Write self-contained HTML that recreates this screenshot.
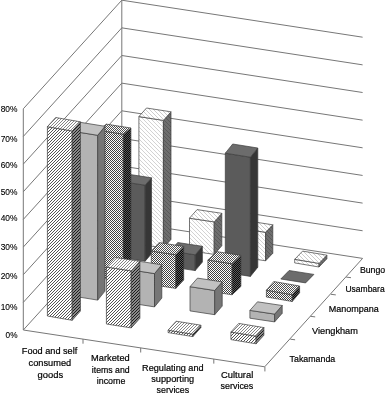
<!DOCTYPE html>
<html><head><meta charset="utf-8"><title>Chart</title><style>
html,body{margin:0;padding:0;background:#fff;}
svg{display:block;}
.s1f{fill:url(#h1f)} .s1r{fill:url(#h1r)} .s1t{fill:url(#h1t)}
.s2f{fill:#b3b3b3} .s2r{fill:#767676} .s2t{fill:#c1c1c1}
.s3f{fill:url(#c3f)} .s3r{fill:url(#c3r)} .s3t{fill:url(#c3t)}
.s4f{fill:#5b5b5b} .s4r{fill:#363636} .s4t{fill:#6c6c6c}
.s5f{fill:url(#h5f)} .s5r{fill:url(#h5r)} .s5t{fill:url(#h5t)}
</style></head><body>
<svg width="387" height="395" viewBox="0 0 387 395"><defs><pattern id="h1f" width="30" height="30" patternUnits="userSpaceOnUse"><rect width="30" height="30" fill="#fff"/><path d="M-30.000 30 L0.000 0 M-27.000 30 L3.000 0 M-24.000 30 L6.000 0 M-21.000 30 L9.000 0 M-18.000 30 L12.000 0 M-15.000 30 L15.000 0 M-12.000 30 L18.000 0 M-9.000 30 L21.000 0 M-6.000 30 L24.000 0 M-3.000 30 L27.000 0 M0.000 30 L30.000 0 M3.000 30 L33.000 0 M6.000 30 L36.000 0 M9.000 30 L39.000 0 M12.000 30 L42.000 0 M15.000 30 L45.000 0 M18.000 30 L48.000 0 M21.000 30 L51.000 0 M24.000 30 L54.000 0 M27.000 30 L57.000 0 M30.000 30 L60.000 0" stroke="#222" stroke-width="0.78" fill="none"/></pattern><pattern id="h1r" width="30" height="30" patternUnits="userSpaceOnUse"><rect width="30" height="30" fill="#8a8a8a"/><path d="M-30.000 30 L0.000 0 M-27.000 30 L3.000 0 M-24.000 30 L6.000 0 M-21.000 30 L9.000 0 M-18.000 30 L12.000 0 M-15.000 30 L15.000 0 M-12.000 30 L18.000 0 M-9.000 30 L21.000 0 M-6.000 30 L24.000 0 M-3.000 30 L27.000 0 M0.000 30 L30.000 0 M3.000 30 L33.000 0 M6.000 30 L36.000 0 M9.000 30 L39.000 0 M12.000 30 L42.000 0 M15.000 30 L45.000 0 M18.000 30 L48.000 0 M21.000 30 L51.000 0 M24.000 30 L54.000 0 M27.000 30 L57.000 0 M30.000 30 L60.000 0" stroke="#1c1c1c" stroke-width="1.00" fill="none"/></pattern><pattern id="h1t" width="30" height="30" patternUnits="userSpaceOnUse"><rect width="30" height="30" fill="#fff"/><path d="M-30.000 30 L0.000 0 M-27.000 30 L3.000 0 M-24.000 30 L6.000 0 M-21.000 30 L9.000 0 M-18.000 30 L12.000 0 M-15.000 30 L15.000 0 M-12.000 30 L18.000 0 M-9.000 30 L21.000 0 M-6.000 30 L24.000 0 M-3.000 30 L27.000 0 M0.000 30 L30.000 0 M3.000 30 L33.000 0 M6.000 30 L36.000 0 M9.000 30 L39.000 0 M12.000 30 L42.000 0 M15.000 30 L45.000 0 M18.000 30 L48.000 0 M21.000 30 L51.000 0 M24.000 30 L54.000 0 M27.000 30 L57.000 0 M30.000 30 L60.000 0" stroke="#505050" stroke-width="0.70" fill="none"/></pattern><pattern id="c3f" width="2" height="2" patternUnits="userSpaceOnUse"><rect width="2" height="2" fill="#fff"/><rect width="1" height="1" fill="#404040"/><rect x="1" y="1" width="1" height="1" fill="#404040"/></pattern><pattern id="c3r" width="2" height="2" patternUnits="userSpaceOnUse"><rect width="2" height="2" fill="#0a0a0a"/><rect width="1" height="1" fill="#5a5a5a"/><rect x="1" y="1" width="1" height="1" fill="#5a5a5a"/></pattern><pattern id="c3t" width="2" height="2" patternUnits="userSpaceOnUse"><rect width="2" height="2" fill="#fff"/><rect width="1" height="1" fill="#505050"/><rect x="1" y="1" width="1" height="1" fill="#505050"/></pattern><pattern id="h5f" width="40" height="40" patternUnits="userSpaceOnUse"><rect width="40" height="40" fill="#fff"/><path d="M-40.000 0 L0.000 40 M-36.000 0 L4.000 40 M-32.000 0 L8.000 40 M-28.000 0 L12.000 40 M-24.000 0 L16.000 40 M-20.000 0 L20.000 40 M-16.000 0 L24.000 40 M-12.000 0 L28.000 40 M-8.000 0 L32.000 40 M-4.000 0 L36.000 40 M0.000 0 L40.000 40 M4.000 0 L44.000 40 M8.000 0 L48.000 40 M12.000 0 L52.000 40 M16.000 0 L56.000 40 M20.000 0 L60.000 40 M24.000 0 L64.000 40 M28.000 0 L68.000 40 M32.000 0 L72.000 40 M36.000 0 L76.000 40 M40.000 0 L80.000 40" stroke="#cecece" stroke-width="0.90" fill="none"/></pattern><pattern id="h5r" width="40" height="40" patternUnits="userSpaceOnUse"><rect width="40" height="40" fill="#6e6e6e"/><path d="M-40.000 0 L0.000 40 M-36.000 0 L4.000 40 M-32.000 0 L8.000 40 M-28.000 0 L12.000 40 M-24.000 0 L16.000 40 M-20.000 0 L20.000 40 M-16.000 0 L24.000 40 M-12.000 0 L28.000 40 M-8.000 0 L32.000 40 M-4.000 0 L36.000 40 M0.000 0 L40.000 40 M4.000 0 L44.000 40 M8.000 0 L48.000 40 M12.000 0 L52.000 40 M16.000 0 L56.000 40 M20.000 0 L60.000 40 M24.000 0 L64.000 40 M28.000 0 L68.000 40 M32.000 0 L72.000 40 M36.000 0 L76.000 40 M40.000 0 L80.000 40" stroke="#565656" stroke-width="0.95" fill="none"/></pattern><pattern id="h5t" width="40" height="40" patternUnits="userSpaceOnUse"><rect width="40" height="40" fill="#fff"/><path d="M-40.000 0 L0.000 40 M-36.000 0 L4.000 40 M-32.000 0 L8.000 40 M-28.000 0 L12.000 40 M-24.000 0 L16.000 40 M-20.000 0 L20.000 40 M-16.000 0 L24.000 40 M-12.000 0 L28.000 40 M-8.000 0 L32.000 40 M-4.000 0 L36.000 40 M0.000 0 L40.000 40 M4.000 0 L44.000 40 M8.000 0 L48.000 40 M12.000 0 L52.000 40 M16.000 0 L56.000 40 M20.000 0 L60.000 40 M24.000 0 L64.000 40 M28.000 0 L68.000 40 M32.000 0 L72.000 40 M36.000 0 L76.000 40 M40.000 0 L80.000 40" stroke="#c6c6c6" stroke-width="0.90" fill="none"/></pattern></defs>
<g stroke="#777" stroke-width="1" fill="none"><line x1="23.30" y1="330.00" x2="121.80" y2="221.40"/><line x1="121.80" y1="221.40" x2="362.60" y2="258.40"/><line x1="23.30" y1="302.35" x2="121.80" y2="193.75"/><line x1="121.80" y1="193.75" x2="362.60" y2="230.75"/><line x1="23.30" y1="274.70" x2="121.80" y2="166.10"/><line x1="121.80" y1="166.10" x2="362.60" y2="203.10"/><line x1="23.30" y1="247.05" x2="121.80" y2="138.45"/><line x1="121.80" y1="138.45" x2="362.60" y2="175.45"/><line x1="23.30" y1="219.40" x2="121.80" y2="110.80"/><line x1="121.80" y1="110.80" x2="362.60" y2="147.80"/><line x1="23.30" y1="191.75" x2="121.80" y2="83.15"/><line x1="121.80" y1="83.15" x2="362.60" y2="120.15"/><line x1="23.30" y1="164.10" x2="121.80" y2="55.50"/><line x1="121.80" y1="55.50" x2="362.60" y2="92.50"/><line x1="23.30" y1="136.45" x2="121.80" y2="27.85"/><line x1="121.80" y1="27.85" x2="362.60" y2="64.85"/><line x1="23.30" y1="108.80" x2="121.80" y2="0.20"/><line x1="121.80" y1="0.20" x2="362.60" y2="37.20"/><line x1="23.30" y1="330.00" x2="23.30" y2="108.80"/><line x1="121.80" y1="221.40" x2="121.80" y2="0.20"/><line x1="23.30" y1="330.00" x2="264.70" y2="366.80"/><line x1="264.70" y1="366.80" x2="362.60" y2="258.40"/><line x1="83.00" y1="339.10" x2="83.00" y2="343.70"/><line x1="140.70" y1="347.90" x2="140.70" y2="352.50"/><line x1="213.80" y1="359.04" x2="213.80" y2="363.64"/><line x1="264.90" y1="366.83" x2="264.90" y2="371.43"/><line x1="290.30" y1="339.20" x2="295.10" y2="339.80"/><line x1="310.40" y1="316.30" x2="315.20" y2="316.90"/><line x1="331.00" y1="294.30" x2="335.80" y2="294.90"/><line x1="346.20" y1="277.10" x2="351.00" y2="277.70"/></g>
<g stroke="#3c3c3c" stroke-width="0.7" stroke-linejoin="round"><polygon class="s5f" points="138.90,244.20 163.40,248.00 163.40,120.40 138.90,116.60"/><polygon class="s5r" points="163.40,248.00 171.00,239.40 171.00,111.80 163.40,120.40"/><polygon class="s5t" points="138.90,116.60 163.40,120.40 171.00,111.80 146.50,108.00"/><polygon class="s5f" points="189.50,250.70 214.20,254.40 214.20,221.90 189.50,218.20"/><polygon class="s5r" points="214.20,254.40 221.80,245.80 221.80,213.30 214.20,221.90"/><polygon class="s5t" points="189.50,218.20 214.20,221.90 221.80,213.30 197.10,209.60"/><polygon class="s5f" points="241.00,257.00 265.60,260.80 265.60,232.30 241.00,228.50"/><polygon class="s5r" points="265.60,260.80 272.80,253.30 272.80,224.80 265.60,232.30"/><polygon class="s5t" points="241.00,228.50 265.60,232.30 272.80,224.80 248.20,221.00"/><polygon class="s5f" points="294.70,262.90 319.00,267.00 319.00,263.40 294.70,259.30"/><polygon class="s5r" points="319.00,267.00 326.90,258.80 326.90,255.20 319.00,263.40"/><polygon class="s5t" points="294.70,259.30 319.00,263.40 326.90,255.20 302.60,251.10"/><polygon class="s4f" points="120.40,257.40 145.10,261.20 145.10,185.20 120.40,181.40"/><polygon class="s4r" points="145.10,261.20 151.50,253.80 151.50,177.80 145.10,185.20"/><polygon class="s4t" points="120.40,181.40 145.10,185.20 151.50,177.80 126.80,174.00"/><polygon class="s4f" points="170.50,266.80 195.20,270.60 195.20,254.80 170.50,251.00"/><polygon class="s4r" points="195.20,270.60 202.40,262.10 202.40,246.30 195.20,254.80"/><polygon class="s4t" points="170.50,251.00 195.20,254.80 202.40,246.30 177.70,242.50"/><polygon class="s4f" points="225.30,272.40 250.40,276.40 250.40,157.20 225.30,153.20"/><polygon class="s4r" points="250.40,276.40 257.80,267.20 257.80,148.00 250.40,157.20"/><polygon class="s4t" points="225.30,153.20 250.40,157.20 257.80,148.00 232.70,144.00"/><polygon class="s4t" points="280.80,279.00 305.60,282.90 313.90,274.40 289.10,270.50"/><polygon class="s3f" points="98.60,277.60 123.30,281.50 123.30,134.20 98.60,130.30"/><polygon class="s3r" points="123.30,281.50 130.90,275.30 130.90,128.00 123.30,134.20"/><polygon class="s3t" points="98.60,130.30 123.30,134.20 130.90,128.00 106.20,124.10"/><polygon class="s3f" points="151.30,284.60 175.80,288.40 175.80,254.80 151.30,251.00"/><polygon class="s3r" points="175.80,288.40 183.70,280.00 183.70,246.40 175.80,254.80"/><polygon class="s3t" points="151.30,251.00 175.80,254.80 183.70,246.40 159.20,242.60"/><polygon class="s3f" points="207.90,291.00 232.10,294.80 232.10,263.80 207.90,260.00"/><polygon class="s3r" points="232.10,294.80 240.90,286.40 240.90,255.40 232.10,263.80"/><polygon class="s3t" points="207.90,260.00 232.10,263.80 240.90,255.40 216.70,251.60"/><polygon class="s3f" points="266.40,297.00 292.20,301.50 292.20,294.70 266.40,290.20"/><polygon class="s3r" points="292.20,301.50 299.60,292.80 299.60,286.00 292.20,294.70"/><polygon class="s3t" points="266.40,290.20 292.20,294.70 299.60,286.00 273.80,281.50"/><polygon class="s2f" points="72.90,296.10 97.70,300.10 97.70,135.30 72.90,131.30"/><polygon class="s2r" points="97.70,300.10 105.00,291.10 105.00,126.30 97.70,135.30"/><polygon class="s2t" points="72.90,131.30 97.70,135.30 105.00,126.30 80.20,122.30"/><polygon class="s2f" points="129.70,303.00 154.50,306.90 154.50,273.60 129.70,269.70"/><polygon class="s2r" points="154.50,306.90 161.80,298.10 161.80,264.80 154.50,273.60"/><polygon class="s2t" points="129.70,269.70 154.50,273.60 161.80,264.80 137.00,260.90"/><polygon class="s2f" points="190.00,310.90 214.70,314.70 214.70,290.50 190.00,286.70"/><polygon class="s2r" points="214.70,314.70 222.20,306.10 222.20,281.90 214.70,290.50"/><polygon class="s2t" points="190.00,286.70 214.70,290.50 222.20,281.90 197.50,278.10"/><polygon class="s2f" points="249.90,318.20 274.60,321.90 274.60,314.10 249.90,310.40"/><polygon class="s2r" points="274.60,321.90 282.20,313.30 282.20,305.50 274.60,314.10"/><polygon class="s2t" points="249.90,310.40 274.60,314.10 282.20,305.50 257.50,301.80"/><polygon class="s1f" points="47.40,316.00 72.20,320.30 72.20,131.00 47.40,126.70"/><polygon class="s1r" points="72.20,320.30 80.40,311.10 80.40,121.80 72.20,131.00"/><polygon class="s1t" points="47.40,126.70 72.20,131.00 80.40,121.80 55.60,117.50"/><polygon class="s1f" points="106.40,324.00 131.20,327.90 131.20,270.90 106.40,267.00"/><polygon class="s1r" points="131.20,327.90 139.90,318.30 139.90,261.30 131.20,270.90"/><polygon class="s1t" points="106.40,267.00 131.20,270.90 139.90,261.30 115.10,257.40"/><polygon class="s1f" points="168.10,332.60 192.90,336.60 192.90,334.20 168.10,330.20"/><polygon class="s1r" points="192.90,336.60 200.90,327.60 200.90,325.20 192.90,334.20"/><polygon class="s1t" points="168.10,330.20 192.90,334.20 200.90,325.20 176.10,321.20"/><polygon class="s1f" points="230.90,339.60 256.10,343.80 256.10,336.20 230.90,332.00"/><polygon class="s1r" points="256.10,343.80 263.90,335.20 263.90,327.60 256.10,336.20"/><polygon class="s1t" points="230.90,332.00 256.10,336.20 263.90,327.60 238.70,323.40"/></g>
<g font-family="'Liberation Sans', sans-serif" font-size="9.3" fill="#000" stroke="#000" stroke-width="0.12"><text x="5.60" y="337.90" textLength="11.90" lengthAdjust="spacingAndGlyphs">0%</text><text x="0.70" y="309.60" textLength="16.80" lengthAdjust="spacingAndGlyphs">10%</text><text x="0.70" y="279.20" textLength="16.80" lengthAdjust="spacingAndGlyphs">20%</text><text x="0.70" y="250.20" textLength="16.80" lengthAdjust="spacingAndGlyphs">30%</text><text x="0.70" y="220.90" textLength="16.80" lengthAdjust="spacingAndGlyphs">40%</text><text x="0.70" y="194.90" textLength="16.80" lengthAdjust="spacingAndGlyphs">50%</text><text x="0.70" y="167.50" textLength="16.80" lengthAdjust="spacingAndGlyphs">60%</text><text x="0.70" y="141.90" textLength="16.80" lengthAdjust="spacingAndGlyphs">70%</text><text x="0.70" y="111.70" textLength="16.80" lengthAdjust="spacingAndGlyphs">80%</text></g>
<g font-family="'Liberation Sans', sans-serif" font-size="9.5" fill="#000" stroke="#000" stroke-width="0.2"><text x="21.80" y="353.50" textLength="55.50" lengthAdjust="spacingAndGlyphs">Food and self</text><text x="28.60" y="365.90" textLength="42.60" lengthAdjust="spacingAndGlyphs">consumed</text><text x="37.60" y="377.70" textLength="25.60" lengthAdjust="spacingAndGlyphs">goods</text><text x="91.10" y="361.20" textLength="38.60" lengthAdjust="spacingAndGlyphs">Marketed</text><text x="91.80" y="372.60" textLength="37.90" lengthAdjust="spacingAndGlyphs">items and</text><text x="96.80" y="383.70" textLength="28.50" lengthAdjust="spacingAndGlyphs">income</text><text x="142.10" y="371.00" textLength="61.50" lengthAdjust="spacingAndGlyphs">Regulating and</text><text x="151.20" y="382.00" textLength="43.00" lengthAdjust="spacingAndGlyphs">supporting</text><text x="156.60" y="392.80" textLength="32.60" lengthAdjust="spacingAndGlyphs">services</text><text x="221.00" y="378.40" textLength="32.30" lengthAdjust="spacingAndGlyphs">Cultural</text><text x="220.50" y="389.30" textLength="32.80" lengthAdjust="spacingAndGlyphs">services</text><text x="359.90" y="273.00" textLength="25.30" lengthAdjust="spacingAndGlyphs">Bungo</text><text x="345.40" y="291.90" textLength="39.30" lengthAdjust="spacingAndGlyphs">Usambara</text><text x="328.80" y="312.30" textLength="50.00" lengthAdjust="spacingAndGlyphs">Manompana</text><text x="312.00" y="334.10" textLength="45.90" lengthAdjust="spacingAndGlyphs">Viengkham</text><text x="289.60" y="362.00" textLength="45.60" lengthAdjust="spacingAndGlyphs">Takamanda</text></g>
</svg>
</body></html>
